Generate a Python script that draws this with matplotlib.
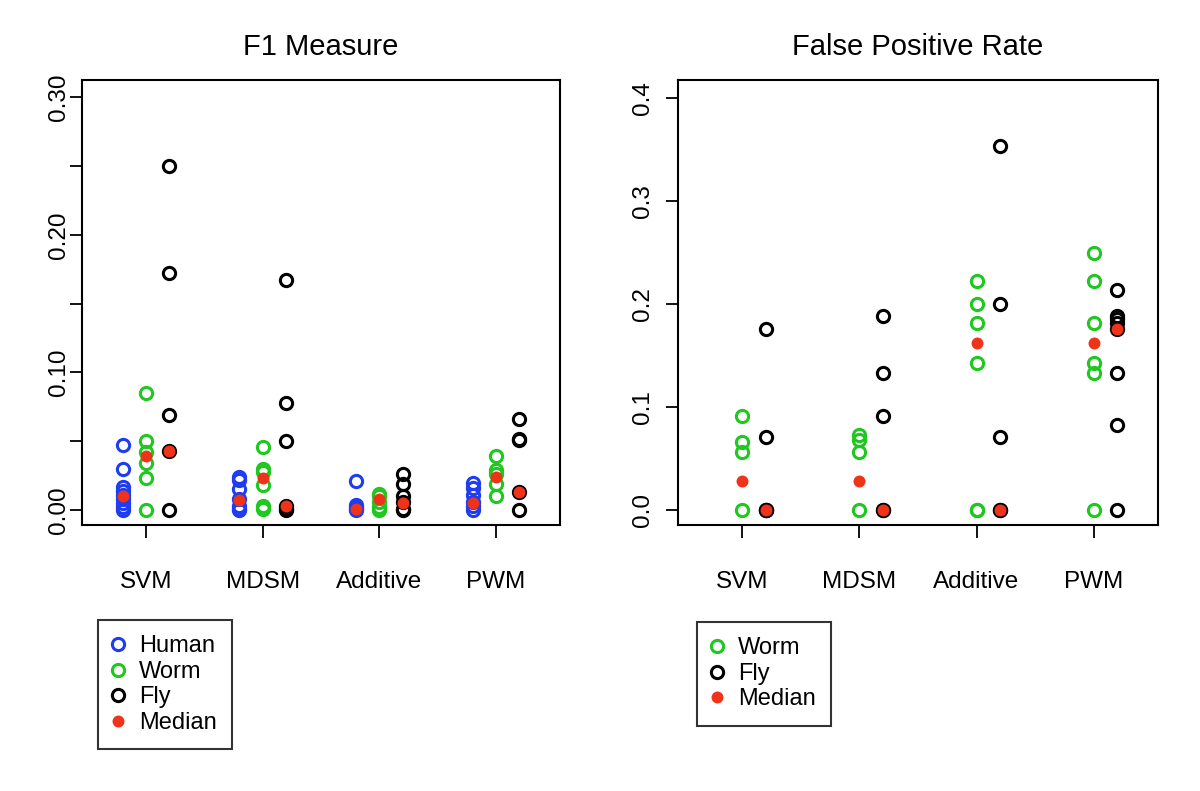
import numpy as np
import matplotlib
matplotlib.use("Agg")
import matplotlib.pyplot as plt
from matplotlib.lines import Line2D

plt.rcParams['font.family'] = ['Liberation Sans', 'DejaVu Sans']

methods = ["SVM", "MDSM", "Additive", "PWM"]

# F1 measure, one list per method
f1_human = [[0.047, 0.030, 0.017, 0.014, 0.011, 0.008, 0.005, 0.002, 0.000],
            [0.024, 0.022, 0.015, 0.008, 0.003, 0.001, 0.000],
            [0.021, 0.004, 0.002, 0.001, 0.000],
            [0.020, 0.016, 0.011, 0.006, 0.003, 0.000]]
f1_worm = [[0.085, 0.050, 0.042, 0.034, 0.023, 0.000],
           [0.046, 0.030, 0.028, 0.018, 0.003, 0.001],
           [0.012, 0.010, 0.006, 0.002, 0.000],
           [0.039, 0.029, 0.026, 0.019, 0.010]]
f1_fly = [[0.250, 0.172, 0.069, 0.043, 0.000],
          [0.167, 0.078, 0.050, 0.003, 0.001, 0.000],
          [0.026, 0.019, 0.010, 0.006, 0.001, 0.000],
          [0.066, 0.052, 0.051, 0.013, 0.000]]
f1_med_human = [0.010, 0.007, 0.001, 0.005]
f1_med_worm = [0.039, 0.023, 0.008, 0.024]
f1_med_fly = [0.043, 0.003, 0.005, 0.013]

# false positive rate
fp_worm = [[0.091, 0.066, 0.056, 0.000],
           [0.073, 0.068, 0.056, 0.000],
           [0.222, 0.200, 0.182, 0.143, 0.000, 0.000],
           [0.250, 0.222, 0.182, 0.143, 0.133, 0.000]]
fp_fly = [[0.176, 0.071, 0.000, 0.000, 0.000],
          [0.188, 0.133, 0.091, 0.000, 0.000],
          [0.353, 0.200, 0.071, 0.000, 0.000],
          [0.214, 0.188, 0.185, 0.182, 0.176, 0.133, 0.083, 0.000]]
fp_med_worm = [0.028, 0.028, 0.162, 0.162]
fp_med_fly = [0.000, 0.000, 0.000, 0.176]

c_human = '#1e3cf0'
c_worm = '#1ec81e'
c_fly = '#000000'
c_med = '#ee3318'

ring = dict(ls='none', marker='o', mfc='none', ms=8.8, mew=2.2)
dot = dict(ls='none', marker='o', ms=8.6, mew=0, color=c_med)

fig = plt.figure(figsize=(12, 7.91), dpi=100)
ax1 = fig.add_axes([82/1200, 1-525/791, 478/1200, 445/791])
ax2 = fig.add_axes([678/1200, 1-525/791, 480/1200, 445/791])

def rings(ax, groups, off, col):
    for i, vals in enumerate(groups):
        ax.plot([i + 1 + off]*len(vals), vals, mec=col, **ring)

# left panel
rings(ax1, f1_human, -0.2, c_human)
rings(ax1, f1_worm, 0.0, c_worm)
rings(ax1, f1_fly, 0.2, c_fly)
x = np.arange(1, 5)
ax1.plot(x - 0.2, f1_med_human, **dot)
ax1.plot(x, f1_med_worm, **dot)
ax1.plot(x + 0.2, f1_med_fly, **dot)
ax1.set_ylim(-0.0109, 0.3127)
yt = np.arange(0, 0.31, 0.05)
ax1.set_yticks(yt)
ax1.set_yticklabels(['0.00', '', '0.10', '', '0.20', '', '0.30'],
                    rotation=90, va='center')
ax1.tick_params(axis='y', pad=0)
ax1.set_title("F1 Measure", fontsize=21, pad=18)

# right panel
rings(ax2, fp_worm, 0.0, c_worm)
rings(ax2, fp_fly, 0.2, c_fly)
ax2.plot(x, fp_med_worm, **dot)
ax2.plot(x + 0.2, fp_med_fly, **dot)
ax2.set_ylim(-0.01456, 0.4175)
ax2.set_yticks([0.0, 0.1, 0.2, 0.3, 0.4])
ax2.set_yticklabels(['0.0', '0.1', '0.2', '0.3', '0.4'], rotation=90, va='center')
ax2.tick_params(axis='y', pad=8)
ax2.set_title("False Positive Rate", fontsize=21, pad=18)

for ax in (ax1, ax2):
    ax.set_xlim(0.45, 4.55)
    ax.set_xticks(x)
    ax.set_xticklabels(methods)
    ax.tick_params(axis='x', pad=24)
    ax.tick_params(length=9, width=1.3, labelsize=17.5, direction='out')
    for s in ax.spines.values():
        s.set_linewidth(1.5)

def handle(col, filled=False):
    if filled:
        return Line2D([], [], **dot)
    return Line2D([], [], mec=col, **ring)

leg_kw = dict(loc='upper left', frameon=True, fancybox=False, fontsize=17,
              handlelength=0.4, handletextpad=0.7, labelspacing=0.15,
              borderpad=0.65, borderaxespad=0)
l1 = fig.legend([handle(c_human), handle(c_worm), handle(c_fly), handle(c_med, True)],
                ["Human", "Worm", "Fly", "Median"],
                bbox_to_anchor=(98/1200, 1-620/791), **leg_kw)
l2 = fig.legend([handle(c_worm), handle(c_fly), handle(c_med, True)],
                ["Worm", "Fly", "Median"],
                bbox_to_anchor=(697/1200, 1-622/791), **leg_kw)
for l in (l1, l2):
    l.get_frame().set_edgecolor('black')
    l.get_frame().set_linewidth(1.5)

fig.savefig("out.png", dpi=100)
